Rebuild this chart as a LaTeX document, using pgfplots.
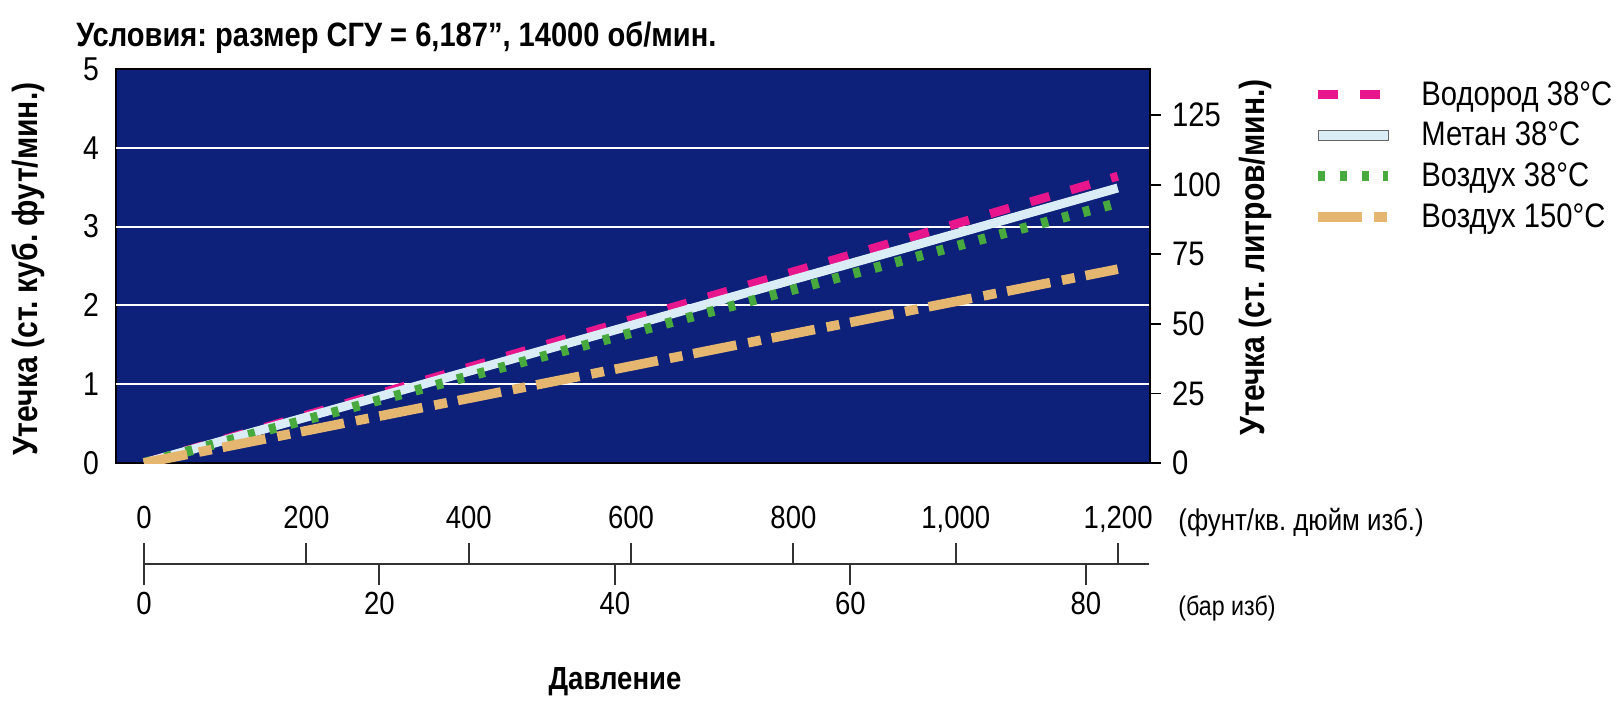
\documentclass[border=0pt]{standalone}
\usepackage{fontspec}
\setmainfont[FakeStretch=0.86]{Liberation Sans}
\usepackage{pgfplots}
\pgfplotsset{compat=1.18}
\pgfplotsset{/pgf/number format/assume math mode=true}
\frenchspacing
\definecolor{navy}{RGB}{13,33,122}
\definecolor{hydc}{RGB}{232,22,140}
\definecolor{methc}{RGB}{218,236,246}
\definecolor{airc}{RGB}{72,170,62}
\definecolor{hotc}{RGB}{228,182,112}
\pgfplotsset{
  hyd/.style={hydc, line width=4.4pt, dash pattern=on 10pt off 11pt},
  meth/.style={methc, line width=4.5pt},
  air/.style={airc, line width=5pt, dash pattern=on 3.5pt off 7.3pt},
  hot/.style={hotc, line width=4.8pt, dash pattern=on 22pt off 6pt on 6.5pt off 5.5pt},
}
\begin{document}
\frenchspacing
\begin{tikzpicture}
\useasboundingbox (0,0) rectangle (809pt,351.5pt);
\node[anchor=west, inner sep=0pt, font=\fontsize{16.9}{19}\selectfont\bfseries] at (38pt,332.5pt) {Условия: размер СГУ = 6,187”, 14000 об/мин.};
% main axis
\begin{axis}[
  at={(58pt,120pt)}, anchor=south west,
  scale only axis, width=517pt, height=197pt,
  xmin=-34.5, xmax=1239.7, ymin=0, ymax=5,
  axis background/.style={fill=navy},
  axis line style={black, line width=0.8pt},
  xtick=\empty,
  ytick={0,1,2,3,4,5},
  major tick length=0pt,
  extra y ticks={1,2,3,4},
  extra y tick labels={},
  extra y tick style={grid=major, major grid style={white, line width=1pt}},
  yticklabel style={font=\fontsize{16.5}{19}\selectfont, xshift=-5pt},
  ylabel={\bfseries Утечка (ст. куб. фут/мин.)},
  ylabel style={at={(axis description cs:-0.0851,0.492)}, anchor=center, font=\fontsize{17.5}{20}\selectfont},
  legend style={draw=none, fill=none, at={(1.1576,0.98)}, anchor=north west, inner sep=0pt,
    font=\fontsize{17}{20}\selectfont, row sep=3pt, column sep=12pt},
  legend cell align=left,
  legend image code/.code={\draw[#1] (0pt,0pt) -- (35pt,0pt);},
]
\addplot[hyd] coordinates {(0,0) (200,0.607) (400,1.213) (600,1.82) (800,2.427) (1000,3.033) (1200,3.64)};
\addlegendentry{Водород 38°C}
\addplot[meth, legend image code/.code={\draw[fill=methc, draw=gray!80!black, line width=0.6pt] (0pt,-2.5pt) rectangle (35pt,2.5pt);}] coordinates {(0,0) (200,0.582) (400,1.163) (600,1.745) (800,2.327) (1000,2.908) (1200,3.49)};
\addlegendentry{Метан 38°C}
\addplot[air] coordinates {(0,0) (200,0.55) (400,1.1) (600,1.65) (800,2.2) (1000,2.75) (1200,3.30)};
\addlegendentry{Воздух 38°C}
\addplot[hot] coordinates {(0,0) (200,0.41) (400,0.82) (600,1.23) (800,1.64) (1000,2.05) (1200,2.46)};
\addlegendentry{Воздух 150°C}
\end{axis}
% right axis (litres/min)
\begin{axis}[
  at={(58pt,120pt)}, anchor=south west,
  scale only axis, width=517pt, height=197pt,
  xmin=-34.5, xmax=1239.7, ymin=0, ymax=141.585,
  hide x axis,
  axis y line*=right,
  axis line style={black, line width=0.8pt},
  ytick={0,25,50,75,100,125},
  tick align=outside, major tick length=5.5pt,
  tick style={black, line width=0.8pt},
  yticklabel style={font=\fontsize{17}{19}\selectfont, xshift=2pt},
  ylabel={\bfseries Утечка (ст. литров/мин.)},
  ylabel style={at={(axis description cs:1.1015,0.522)}, anchor=center, font=\fontsize{17.5}{20}\selectfont},
]
\end{axis}
% psi scale
\begin{axis}[
  at={(72pt,69.5pt)}, anchor=north west,
  scale only axis, width=502.5pt, height=10pt,
  xmin=0, xmax=1238, ymin=0, ymax=1,
  axis x line*=top, axis y line=none,
  axis line style={black!80, line width=1pt},
  xtick={0,200,400,600,800,1000,1200},
  xticklabels={0,200,400,600,800,{1,000},{1,200}},
  tick align=outside, major tick length=10.5pt,
  tick style={black!80, line width=1pt},
  xticklabel style={font=\fontsize{16}{19}\selectfont, text depth=0pt, yshift=3.5pt},
]
\end{axis}
% bar scale
\begin{axis}[
  at={(72pt,69.5pt)}, anchor=south west,
  scale only axis, width=502.5pt, height=10pt,
  xmin=0, xmax=85.356, ymin=0, ymax=1,
  axis x line*=bottom, axis y line=none,
  axis line style={black!80, line width=1pt},
  xtick={0,20,40,60,80},
  tick align=outside, major tick length=10.5pt,
  tick style={black!80, line width=1pt},
  xticklabel style={font=\fontsize{16}{19}\selectfont},
]
\end{axis}
\node[anchor=west, inner sep=0pt, font=\fontsize{15}{17}\selectfont] at (589pt,90.5pt) {(фунт/кв. дюйм изб.)};
\node[anchor=west, inner sep=0pt, font=\fontsize{13.5}{15}\selectfont] at (589pt,47.5pt) {(бар изб)};
\node[anchor=center, inner sep=0pt, font=\fontsize{16}{19}\selectfont\bfseries] at (307.5pt,10.5pt) {Давление};
\end{tikzpicture}
\end{document}
